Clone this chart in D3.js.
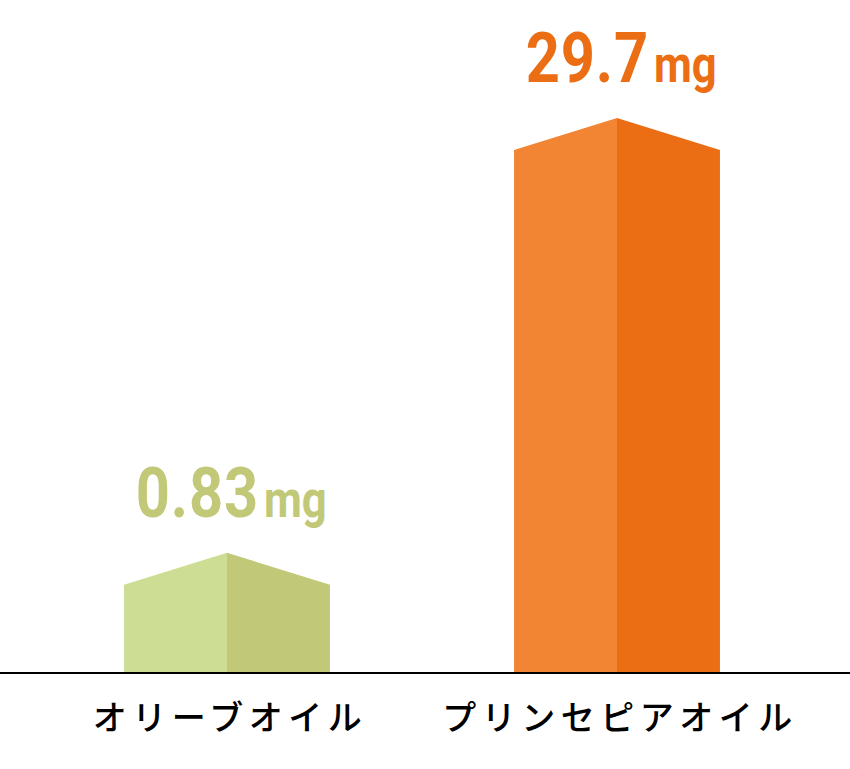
<!DOCTYPE html>
<html>
<head>
<meta charset="utf-8">
<script src="https://cdn.jsdelivr.net/npm/d3@7"></script>
<style>
  body { margin: 0; background: #fff; }
</style>
</head>
<body>
<div id="chart"></div>
<script>
// oil comparison, two "house" bars

var categories = ["オリーブオイル", "プリンセピアオイル"];
var values = [0.83, 29.7];
var valueLabels = ["0.83", "29.7"];
var unit = "mg";

var lightColors = ["#cddd94", "#f28533"];
var darkColors = ["#c1c877", "#eb6e14"];

var svgWidth = 850;
var svgHeight = 769;
var baseY = 672;
var roof = 32;

var svg = d3.select("#chart")
  .append("svg")
  .attr("width", svgWidth)
  .attr("height", svgHeight);

var xScale = d3.scaleBand()
  .domain(categories)
  .range([32, 812])
  .paddingInner(0.472)
  .paddingOuter(0.236);

// bar heights follow a square-root scale
var yScale = d3.scaleSqrt()
  .domain([0, d3.max(values)])
  .range([baseY, 150]);

var data = categories.map(function(c, i) {
  return {cat: c, value: values[i], label: valueLabels[i], light: lightColors[i], dark: darkColors[i]};
});

function centerX(d) { return xScale(d.cat) + xScale.bandwidth() / 2; }
function labelY(d) { return yScale(d.value) - roof - 36; }

var bars = svg.append("g")
  .selectAll("g")
  .data(data)
  .enter()
  .append("g");

// left half
bars.append("path")
  .attr("d", function(d) {
    var x0 = xScale(d.cat), cx = centerX(d), y = yScale(d.value);
    return "M" + x0 + "," + baseY + "L" + x0 + "," + y + "L" + cx + "," + (y - roof) + "L" + cx + "," + baseY + "Z";
  })
  .attr("fill", function(d) { return d.light; });

// right half
bars.append("path")
  .attr("d", function(d) {
    var x1 = xScale(d.cat) + xScale.bandwidth(), cx = centerX(d), y = yScale(d.value);
    return "M" + cx + "," + baseY + "L" + cx + "," + (y - roof) + "L" + x1 + "," + y + "L" + x1 + "," + baseY + "Z";
  })
  .attr("fill", function(d) { return d.dark; });

// value labels (condensed look)
bars.append("text")
  .attr("transform", function(d) { return "translate(" + (centerX(d) + 32) + "," + labelY(d) + ") scale(0.84,1)"; })
  .attr("text-anchor", "end")
  .attr("font-family", "Roboto, sans-serif")
  .attr("font-weight", "bold")
  .attr("font-size", "71px")
  .attr("letter-spacing", "1px")
  .attr("fill", function(d) { return d.dark; })
  .text(function(d) { return d.label; });

bars.append("text")
  .attr("transform", function(d) { return "translate(" + (centerX(d) + 37) + "," + labelY(d) + ") scale(0.84,1)"; })
  .attr("font-family", "Roboto, sans-serif")
  .attr("font-weight", "bold")
  .attr("font-size", "52px")
  .attr("fill", function(d) { return d.dark; })
  .text(unit);

// baseline
svg.append("line")
  .attr("x1", 0)
  .attr("x2", svgWidth)
  .attr("y1", baseY + 1)
  .attr("y2", baseY + 1)
  .attr("stroke", "#000")
  .attr("stroke-width", 2);

// category labels
svg.append("g")
  .selectAll("text")
  .data(categories)
  .enter()
  .append("text")
  .attr("x", function(d) { return xScale(d) + xScale.bandwidth() / 2 + 3; })
  .attr("y", 730)
  .attr("text-anchor", "middle")
  .attr("font-family", "'Noto Sans CJK JP', sans-serif")
  .attr("font-weight", "500")
  .attr("font-size", "34px")
  .attr("letter-spacing", "5.5px")
  .attr("fill", "#000")
  .text(function(d) { return d; });
</script>
</body>
</html>
